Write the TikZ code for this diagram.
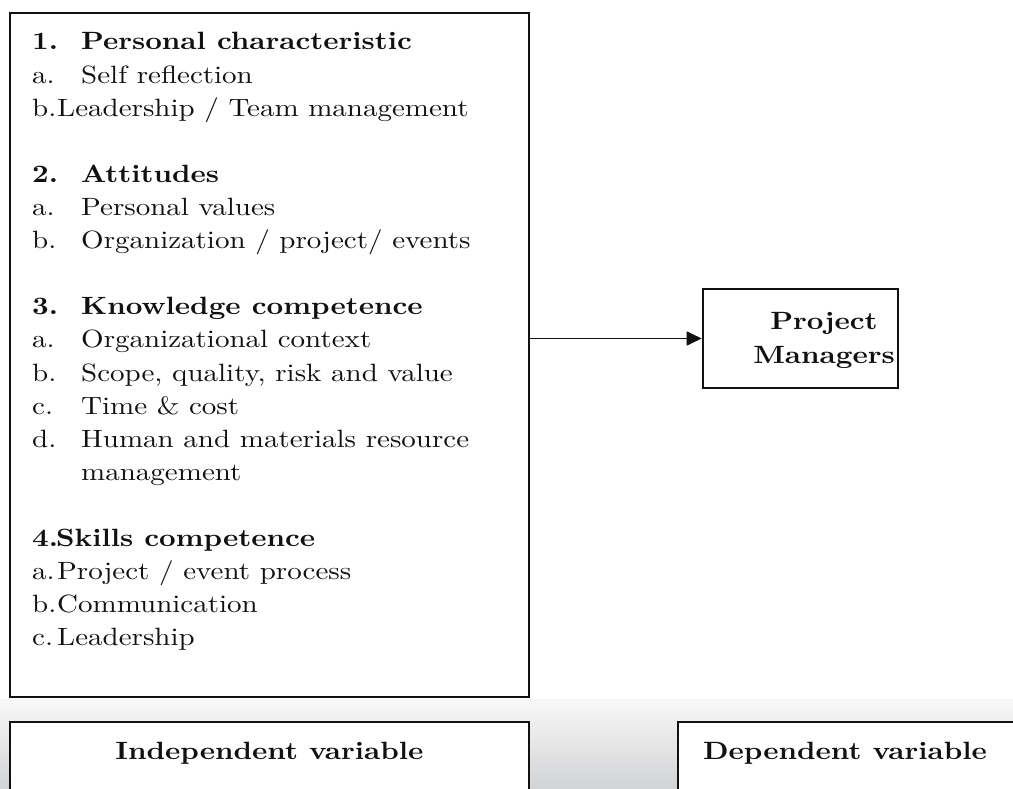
\documentclass[tikz,border=0pt]{standalone}
\usepackage{fontspec}
\setmainfont{lmroman10-regular.otf}[BoldFont=lmroman10-bold.otf, FakeStretch=1.16]
\usetikzlibrary{arrows.meta}
\definecolor{gtop}{HTML}{F8F8F8}
\definecolor{gbot}{HTML}{D2D3D5}
\definecolor{ink}{HTML}{111111}
\tikzset{
  frame/.style={draw=ink, line width=2pt, fill=white, inner sep=0pt, rectangle},
  itemtext/.style={anchor=base west, inner sep=0pt, text=ink, font=\fontsize{25}{33}\selectfont},
  boldtext/.style={anchor=base, inner sep=0pt, text=ink, font=\fontsize{25}{33}\selectfont\bfseries},
  link/.style={draw=ink, line width=1.8pt, -{Triangle[length=15pt,width=14pt]}}
}
\begin{document}
\begin{tikzpicture}[x=1pt,y=-1pt]
\useasboundingbox (0,0) rectangle (1013,789);
\clip (0,0) rectangle (1013,789);
\fill[white] (0,0) rectangle (1013,789);
\shade[top color=gtop, bottom color=gbot] (0,699) rectangle (1013,789);

% main box
\node[frame, minimum width=519.8pt, minimum height=684.3pt] (main) at (269.4,354.9) {};
% project managers box
\node[frame, minimum width=195.3pt, minimum height=99pt] (pm) at (800.35,338.5) {};
% bottom boxes
\node[frame, minimum width=519.8pt, minimum height=98pt] (ind) at (269.4,771) {};
\node[frame, minimum width=372pt, minimum height=98pt] (dep) at (864,771) {};

% section 1
\node[itemtext] (n1) at (32,50) {\bfseries 1.};
\node[itemtext] (t1) at (81,50) {\bfseries Personal characteristic};
\node[itemtext] (n1a) at (32,83.1) {a.};
\node[itemtext] (t1a) at (81,83.1) {Self reflection};
\node[itemtext] (n1b) at (32,116.2) {b.};
\node[itemtext] (t1b) at (57,116.2) {Leadership / Team management};
% section 2
\node[itemtext] (n2) at (32,182.4) {\bfseries 2.};
\node[itemtext] (t2) at (81,182.4) {\bfseries Attitudes};
\node[itemtext] (n2a) at (32,215.5) {a.};
\node[itemtext] (t2a) at (81,215.5) {Personal values};
\node[itemtext] (n2b) at (32,248.6) {b.};
\node[itemtext] (t2b) at (81,248.6) {Organization / project/ events};
% section 3
\node[itemtext] (n3) at (32,314.8) {\bfseries 3.};
\node[itemtext] (t3) at (81,314.8) {\bfseries Knowledge competence};
\node[itemtext] (n3a) at (32,347.9) {a.};
\node[itemtext] (t3a) at (81,347.9) {Organizational context};
\node[itemtext] (n3b) at (32,381) {b.};
\node[itemtext] (t3b) at (81,381) {Scope, quality, risk and value};
\node[itemtext] (n3c) at (32,414.1) {c.};
\node[itemtext] (t3c) at (81,414.1) {Time \& cost};
\node[itemtext] (n3d) at (32,447.2) {d.};
\node[itemtext] (t3d) at (81,447.2) {Human and materials resource};
\node[itemtext] (t3d2) at (81,480.3) {management};
% section 4
\node[itemtext] (n4) at (32,546.5) {\bfseries 4.};
\node[itemtext] (t4) at (56,546.5) {\bfseries Skills competence};
\node[itemtext] (n4a) at (32,579.6) {a.};
\node[itemtext] (t4a) at (57,579.6) {Project / event process};
\node[itemtext] (n4b) at (32,612.7) {b.};
\node[itemtext] (t4b) at (57,612.7) {Communication};
\node[itemtext] (n4c) at (32,645.8) {c.};
\node[itemtext] (t4c) at (57,645.8) {Leadership};

% project managers text
\node[boldtext] (pm1) at (824,329) {Project};
\node[boldtext] (pm2) at (824,363) {Managers};

% bottom labels
\node[boldtext] (indt) at (269.4,759) {Independent variable};
\node[boldtext] (dept) at (845,759) {Dependent variable};

% connector
\draw[link] (main.east |- pm.west) -- (pm.west);
\end{tikzpicture}
\end{document}
